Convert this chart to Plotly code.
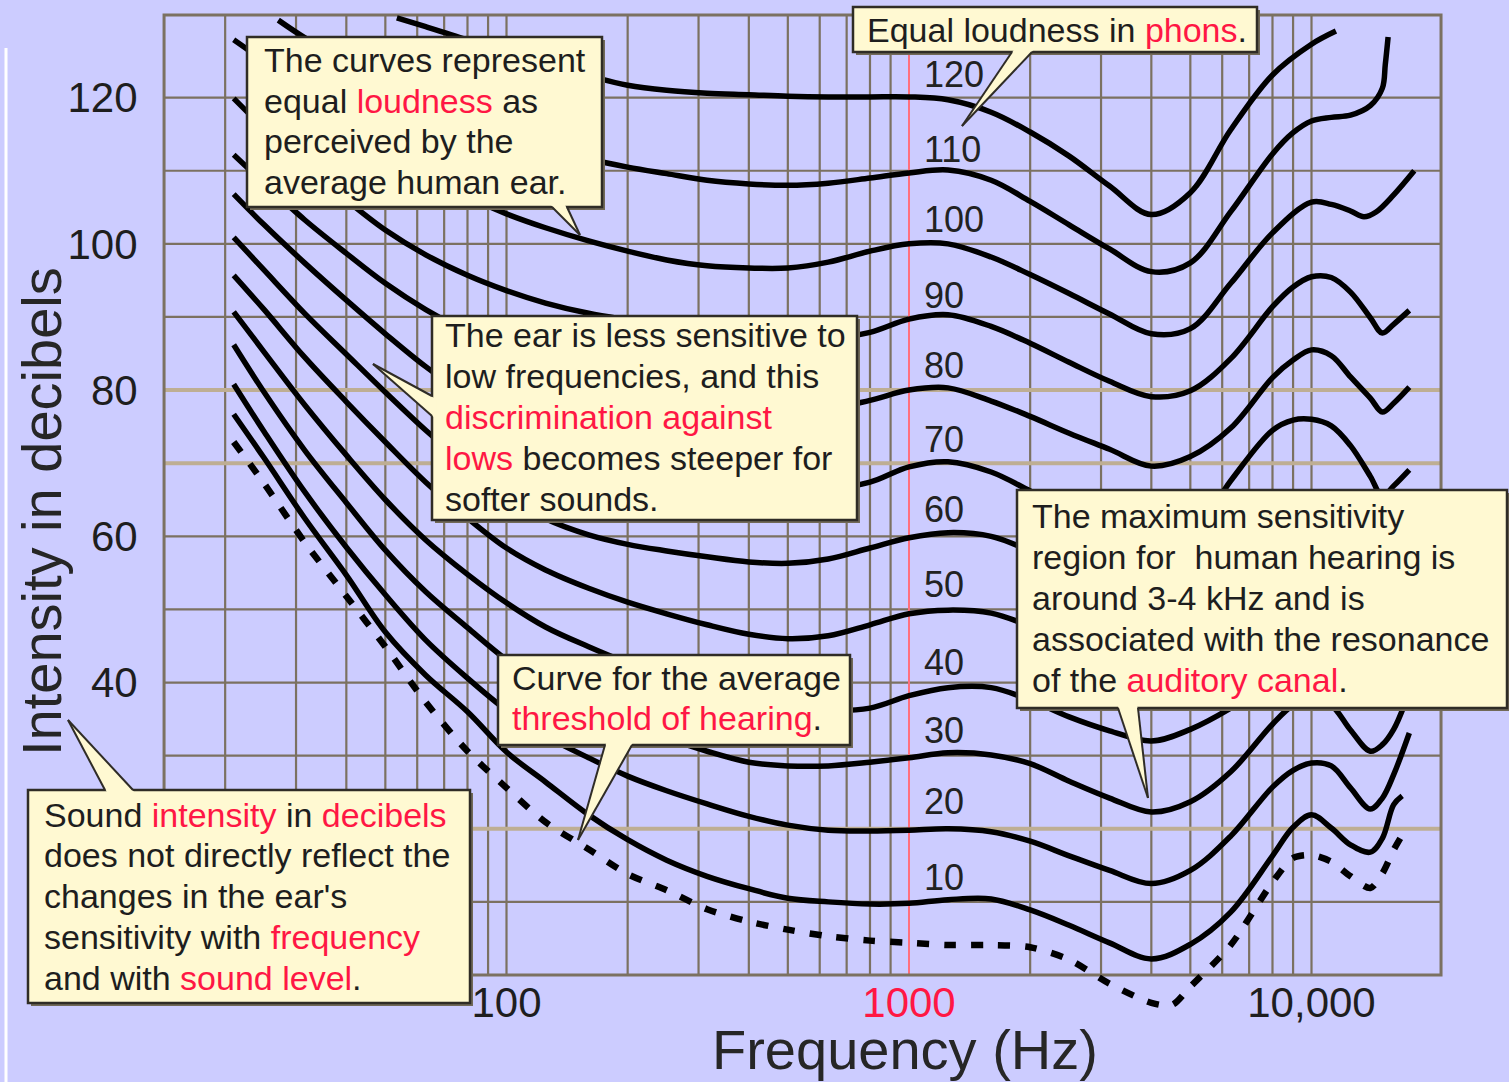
import math
import plotly.graph_objects as go

FONT = "Liberation Sans, Arial, Helvetica, sans-serif"
BG = "#ccccff"
INK = "#1e1e1e"
RED = "#ff1744"
GRID = "#7b7161"
TAN = "#beae93"
PINK = "#ff6f7d"
CREAM = "#fff9d2"
EDGE = "#2f2c26"
SHADOW = "#716958"

# ---------------- data ----------------
phon_levels = [120, 110, 100, 90, 80, 70, 60, 50, 40, 30, 20, 10]
phon_label_db = [123.1, 112.9, 103.3, 92.9, 83.4, 73.2, 63.6, 53.4, 42.8, 33.4, 23.7, 13.3]
phon_label_freq = 1077

c120_f = [53.4, 63, 80, 100, 125, 160, 200, 250, 315, 400, 500, 630, 800, 1000, 1250, 1600,
          2000, 2500, 3150, 4000, 5000, 6300, 8000, 10000, 11500]
c120_db = [130.9, 129.7, 127.9, 126.1, 124.6, 123.0, 121.7, 121.0, 120.6, 120.4, 120.2, 120.1, 120.1,
           120.1, 119.7, 118.0, 115.3, 112.0, 107.9, 104.0, 107.0, 115.6, 123.1, 127.3, 129.1]

c110_f = [27.1, 31.5, 40, 50, 63, 80, 100, 125, 160, 200, 250, 315, 400, 500, 630, 800, 1000,
          1250, 1600, 2000, 2500, 3150, 4000, 5000, 6300, 8000, 9000, 10000, 11200, 12500,
          14000, 15000, 15250, 15500]
c110_db = [130.6, 128.2, 124.9, 121.9, 119.3, 116.9, 114.9, 113.1, 111.6, 110.5, 109.6, 108.7, 108.2,
           108.0, 108.3, 109.0, 109.7, 110.1, 108.7, 105.8, 102.6, 99.3, 96.2, 97.4, 104.4,
           112.3, 115.2, 116.8, 117.3, 117.6, 118.9, 121.3, 124.5, 128.3]

c100_f = [21, 25, 31.5, 40, 50, 63, 80, 100, 125, 160, 200, 250, 315, 400, 500, 630, 800, 1000,
          1250, 1600, 2000, 2500, 3150, 4000, 5000, 6300, 8000, 10000, 11200, 12500,
          13500, 14500, 16000, 18000]
c100_db = [127.9, 124.9, 120.4, 116.0, 112.3, 109.1, 106.4, 104.1, 102.2, 100.4, 99.0, 97.8, 97.0,
           96.7, 96.7, 97.5, 99.0, 100.0, 100.0, 98.2, 95.8, 93.2, 90.4, 87.7, 88.4, 94.6,
           101.5, 105.7, 105.4, 104.5, 103.7, 104.4, 106.7, 110.0]

f_std = [21, 25, 31.5, 40, 50, 63, 80, 100, 125, 160, 200, 250, 315, 400, 500, 630, 800, 1000,
         1250, 1600, 2000, 2500, 3150, 4000, 5000, 6300, 8000, 9000, 10000, 11200, 12500,
         14000, 15000, 16000, 17500]

c90_db = [119.9, 115.8, 110.8, 106.0, 101.9, 98.5, 95.7, 93.6, 91.9, 90.5, 89.6, 88.8, 88.1, 87.5,
          87.3, 87.1, 87.9, 89.7, 90.3, 88.7, 86.4, 83.8, 81.2, 79.1, 79.9, 84.3, 91.4, 94.1,
          95.5, 95.4, 93.4, 89.9, 87.8, 89.0, 90.9]
c80_db = [112.2, 108.3, 103.3, 98.7, 94.6, 91.0, 87.9, 85.5, 83.6, 82.1, 81.0, 80.0, 79.2, 78.5,
          78.0, 77.5, 78.6, 80.0, 80.3, 78.5, 76.4, 74.1, 71.9, 69.6, 70.9, 74.8, 81.7, 84.1,
          85.5, 84.7, 81.8, 78.9, 77.0, 78.2, 80.4]
c70_db = [106.8, 102.6, 97.4, 92.3, 87.7, 83.2, 79.2, 76.2, 73.7, 71.8, 70.4, 69.3, 68.4, 67.7,
          67.0, 66.5, 67.4, 69.5, 70.2, 68.8, 66.2, 63.5, 60.9, 58.8, 59.9, 67.6, 74.5, 75.9,
          76.0, 75.1, 72.4, 68.2, 65.5, 66.9, 69.1]
c60_db = [100.9, 96.4, 90.5, 84.9, 79.7, 74.5, 69.6, 65.4, 62.4, 60.2, 58.9, 58.0, 57.2, 56.5,
          56.3, 56.9, 58.4, 59.8, 60.5, 60.0, 58.0, 55.6, 53.3, 51.4, 52.5, 57.4, 63.6, 65.0,
          65.6, 64.7, 61.5, 57.4, 56.1, 57.4, 60.2]
c50_db = [95.7, 91.0, 84.5, 78.4, 72.9, 67.4, 62.5, 58.4, 55.4, 52.9, 51.0, 49.4, 47.9, 46.6,
          46.0, 46.4, 47.9, 49.4, 49.9, 49.5, 47.7, 45.4, 43.4, 42.0, 43.1, 47.2, 52.7, 54.3,
          55.1, 54.3, 51.3, 47.9, 46.5, 47.9, 50.6]
c40_db = [90.7, 85.2, 78.0, 71.1, 65.0, 59.5, 54.8, 50.9, 47.6, 44.9, 42.7, 40.8, 39.1, 37.7,
          36.8, 36.2, 36.5, 38.2, 39.3, 39.3, 37.6, 35.3, 33.4, 32.0, 33.6, 36.5, 40.3, 41.4,
          42.0, 41.4, 39.3, 37.6, 37.9, 39.3, 41.7]
c20_db = [80.8, 74.3, 66.1, 58.5, 52.0, 45.8, 40.6, 36.2, 32.7, 29.7, 27.2, 25.2, 23.4, 21.7,
          20.5, 19.8, 19.7, 19.8, 20.0, 19.6, 18.3, 16.3, 14.3, 12.5, 14.3, 19.0, 25.7, 28.0,
          29.0, 28.6, 25.6, 22.7, 24.2, 27.4, 33.1]

c30_f = f_std[:-1] + [17000]
c30_db = [86.2, 79.7, 71.8, 64.6, 58.1, 52.4, 47.5, 43.1, 39.5, 36.5, 34.3, 32.4, 30.6, 29.1,
          28.6, 28.6, 29.1, 29.7, 30.4, 30.1, 28.9, 26.5, 24.2, 22.3, 23.7, 27.8, 34.3, 36.9,
          37.9, 36.9, 33.5, 30.6, 31.5, 33.6, 36.9]

c10_f = f_std[:-1] + [16800]
c10_db = [76.7, 70.7, 62.5, 54.7, 46.9, 41.0, 36.0, 30.5, 26.4, 21.9, 18.5, 15.7, 13.5, 11.8,
          10.5, 10.0, 9.7, 9.8, 10.3, 10.4, 8.9, 6.8, 4.4, 2.2, 4.2, 8.6, 16.3, 20.2, 21.9,
          20.1, 17.8, 16.8, 18.7, 23.3, 24.5]

thr_f = [21, 25, 31.5, 40, 50, 63, 80, 100, 125, 160, 200, 250, 315, 400, 500, 630, 800, 1000,
         1250, 1600, 2000, 2500, 3150, 4000, 4500, 5000, 6300, 8000, 9000, 10000, 11200, 12500,
         14000, 15000, 16000, 17000]
thr_db = [72.9, 67.2, 59.2, 51.8, 44.9, 37.3, 30.6, 25.6, 20.9, 17.2, 13.8, 11.6, 9.0, 7.3, 6.2,
          5.3, 4.7, 4.4, 4.1, 4.1, 3.8, 2.1, -1.2, -3.8, -4.1, -1.6, 4.1, 12.7, 16.0, 16.4, 15.5,
          13.5, 11.9, 13.9, 17.1, 19.6]

curves = [
    (c120_f, c120_db), (c110_f, c110_db), (c100_f, c100_db), (f_std, c90_db), (f_std, c80_db),
    (f_std, c70_db), (f_std, c60_db), (f_std, c50_db), (f_std, c40_db), (c30_f, c30_db),
    (f_std, c20_db), (c10_f, c10_db),
]

grid_freqs = [20, 30, 40, 50, 60, 70, 80, 90, 100, 200, 300, 400, 500, 600, 700, 800, 900,
              2000, 3000, 4000, 5000, 6000, 7000, 8000, 9000, 10000]
grid_db = [10, 20, 30, 40, 50, 60, 70, 80, 90, 100, 110, 120]
tan_db = [20, 70, 80]
red_freq = 1000
frame_freq = [14.1, 20980]
frame_db = [0, 131.3]

y_tick_vals = [40, 60, 80, 100, 120]
x_tick_vals = [100, 1000, 10000]
x_tick_text = ["100", f'<span style="color:{RED}">1000</span>', "10,000"]

# ---------------- layout geometry ----------------
W, H = 1509, 1082
ML, MR, MT, MB = 160, 64, 12, 48
PW, PH = W - ML - MR, H - MT - MB
X_RANGE = [1.13913, 4.33168]
Y_RANGE = [-8.07, 131.71]


def paper(x, y):
    return ((x - ML) / PW, (H - MB - y) / PH)


def R(t):
    return f'<span style="color:{RED}">{t}</span>'


fig = go.Figure()

for f, d in curves:
    fig.add_trace(go.Scatter(x=f, y=d, mode="lines",
                             line=dict(color="black", width=5.5, shape="spline", smoothing=1.0),
                             hoverinfo="skip", showlegend=False))
fig.add_trace(go.Scatter(x=thr_f, y=thr_db, mode="lines",
                         line=dict(color="black", width=6.5, shape="spline", smoothing=0.8,
                                   dash="12px,15px"),
                         hoverinfo="skip", showlegend=False))

# shapes on a log axis take data values (not log values)
shapes = []
fx0, fx1 = frame_freq
for f in grid_freqs:
    shapes.append(dict(type="line", xref="x", yref="y", x0=f, x1=f,
                       y0=frame_db[0], y1=frame_db[1], line=dict(color=GRID, width=2.2), layer="below"))
for d in grid_db:
    tan = d in tan_db
    shapes.append(dict(type="line", xref="x", yref="y", x0=fx0, x1=fx1, y0=d, y1=d,
                       line=dict(color=TAN if tan else GRID, width=4 if tan else 2.2), layer="below"))
shapes.append(dict(type="line", xref="x", yref="y", x0=red_freq, x1=red_freq,
                   y0=frame_db[0], y1=frame_db[1], line=dict(color=PINK, width=2), layer="below"))
shapes.append(dict(type="rect", xref="x", yref="y", x0=fx0, x1=fx1, y0=frame_db[0], y1=frame_db[1],
                   line=dict(color=GRID, width=3), fillcolor="rgba(0,0,0,0)", layer="below"))

# white stripe at far left
wx, wy0 = paper(6, 48)
_, wy1 = paper(6, H)
shapes.append(dict(type="line", xref="paper", yref="paper", x0=wx, x1=wx, y0=wy0, y1=wy1,
                   line=dict(color="white", width=3), layer="above"))

callouts = [
    dict(box=(247, 37, 602, 207), tail=[(552, 207), (567, 207), (580, 235)],
         x=262, ys=[60, 101, 141, 182],
         lines=["The curves represent", "equal " + R("loudness") + " as",
                "perceived by the", "average human ear."]),
    dict(box=(853, 7, 1257, 52), tail=[(1012, 52), (1032, 52), (962, 126)],
         x=865, ys=[30], lines=["Equal loudness in " + R("phons") + "."]),
    dict(box=(432, 316, 857, 520), tail=[(432, 396), (432, 416), (373, 364)],
         x=443, ys=[335, 376, 417, 458, 499],
         lines=["The ear is less sensitive to", "low frequencies, and this",
                R("discrimination against"), R("lows") + " becomes steeper for", "softer sounds."]),
    dict(box=(498, 655, 850, 745), tail=[(605, 745), (632, 745), (578, 840)],
         x=510, ys=[678, 718], lines=["Curve for the average", R("threshold of hearing") + "."]),
    dict(box=(1017, 490, 1507, 708), tail=[(1118, 708), (1138, 708), (1148, 798)],
         x=1030, ys=[516, 557, 598, 639, 680],
         lines=["The maximum sensitivity", "region for \u00a0human hearing is", "around 3-4 kHz and is",
                "associated with the resonance", "of the " + R("auditory canal") + "."]),
    dict(box=(28, 790, 470, 1003), tail=[(105, 790), (133, 790), (68, 720)],
         x=42, ys=[815, 855, 896, 937, 978],
         lines=["Sound " + R("intensity") + " in " + R("decibels"), "does not directly reflect the",
                "changes in the ear's", "sensitivity with " + R("frequency"),
                "and with " + R("sound level") + "."]),
]

annotations = []
for c in callouts:
    x0, y0, x1, y1 = c["box"]
    a0, b0 = paper(x0 + 3, y0 + 3)
    a1, b1 = paper(x1 + 3, y1 + 3)
    shapes.append(dict(type="rect", xref="paper", yref="paper", x0=a0, y0=b1, x1=a1, y1=b0,
                       fillcolor=SHADOW, line=dict(width=0), layer="above"))
    a0, b0 = paper(x0, y0)
    a1, b1 = paper(x1, y1)
    shapes.append(dict(type="rect", xref="paper", yref="paper", x0=a0, y0=b1, x1=a1, y1=b0,
                       fillcolor=CREAM, line=dict(color=EDGE, width=2.5), layer="above"))
    (p1, p2, tip) = c["tail"]
    mx, my = (p1[0] + p2[0]) / 2, (p1[1] + p2[1]) / 2
    dx, dy = mx - tip[0], my - tip[1]
    n = math.hypot(dx, dy)
    dx, dy = dx / n * 5, dy / n * 5
    q1 = paper(p1[0] + dx, p1[1] + dy)
    q2 = paper(p2[0] + dx, p2[1] + dy)
    t = paper(*tip)
    path = f"M {q1[0]},{q1[1]} L {q2[0]},{q2[1]} L {t[0]},{t[1]} Z"
    shapes.append(dict(type="path", xref="paper", yref="paper", path=path, fillcolor=CREAM,
                       line=dict(width=0), layer="above"))
    for p in (p1, p2):
        s = paper(*p)
        shapes.append(dict(type="line", xref="paper", yref="paper", x0=s[0], y0=s[1], x1=t[0], y1=t[1],
                           line=dict(color=EDGE, width=2), layer="above"))
    for yy, txt in zip(c["ys"], c["lines"]):
        px_, py_ = paper(c["x"], yy)
        annotations.append(dict(xref="paper", yref="paper", x=px_, y=py_, xanchor="left",
                                yanchor="middle", showarrow=False, text=txt,
                                font=dict(family=FONT, size=34, color=INK)))

# annotations on a log axis take log values
for p, d in zip(phon_levels, phon_label_db):
    annotations.append(dict(xref="x", yref="y", x=math.log10(phon_label_freq), y=d, xanchor="left",
                            yanchor="middle", showarrow=False, text=str(p),
                            font=dict(family=FONT, size=36, color="#222222")))

tx, ty = paper(905, 1049)
annotations.append(dict(xref="paper", yref="paper", x=tx, y=ty, xanchor="center", yanchor="middle",
                        showarrow=False, text="Frequency (Hz)",
                        font=dict(family=FONT, size=56, color="#262626")))
tx, ty = paper(41, 512)
annotations.append(dict(xref="paper", yref="paper", x=tx, y=ty, xanchor="center", yanchor="middle",
                        showarrow=False, text="Intensity in decibels", textangle=-90,
                        font=dict(family=FONT, size=56, color="#262626")))

fig.update_xaxes(type="log", range=X_RANGE, tickvals=x_tick_vals, ticktext=x_tick_text,
                 showgrid=False, zeroline=False, showline=False, ticks="",
                 ticklabelposition="inside", ticklabelstandoff=6,
                 tickfont=dict(family=FONT, size=42, color=INK),
                 automargin=False, fixedrange=True)
fig.update_yaxes(range=Y_RANGE, tickvals=y_tick_vals, showgrid=False, zeroline=False,
                 showline=False, ticks="outside", ticklen=13, tickcolor="rgba(0,0,0,0)",
                 tickfont=dict(family=FONT, size=42, color=INK), automargin=False, fixedrange=True)

fig.update_layout(width=W, height=H, margin=dict(l=ML, r=MR, t=MT, b=MB, pad=0),
                  paper_bgcolor=BG, plot_bgcolor=BG, showlegend=False,
                  shapes=shapes, annotations=annotations, font=dict(family=FONT, color=INK))

fig.write_html("out.html", include_plotlyjs=True, config={"displayModeBar": False},
               post_script="document.body.style.margin='0';document.body.style.overflow='hidden';")
